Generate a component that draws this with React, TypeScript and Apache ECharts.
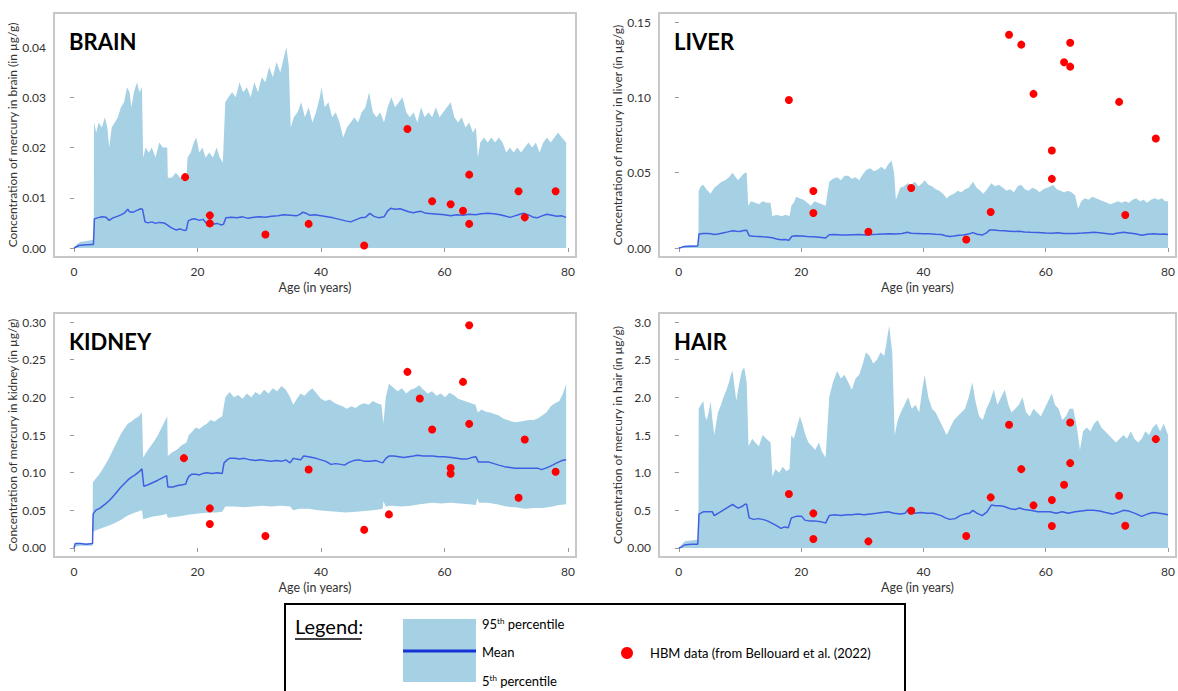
import React, { useEffect, useRef } from "react";
import * as echarts from "echarts";

const FONT = "Lato, 'Open Sans', sans-serif";
const BAND = "#a6d1e5";
const MEAN = "#3e5fe2";
const DOT = "#ff0000";

const xTicks = [0, 20, 40, 60, 80];
const brainTicks = [0, 0.01, 0.02, 0.03, 0.04];
const liverTicks = [0, 0.05, 0.1, 0.15];
const kidneyTicks = [0, 0.05, 0.1, 0.15, 0.2, 0.25, 0.3];
const hairTicks = [0, 0.5, 1, 1.5, 2, 2.5, 3];

const brainUpper = [[0,0],[0.5,0.0008],[1,0.0012],[2,0.0014],[3,0.0016],[3.2,0.0016],[3.25,0.025],[3.6,0.023],[4,0.025],[4.5,0.024],[5,0.026],[5.4,0.024],[5.7,0.020],[6.1,0.024],[6.6,0.025],[7.1,0.026],[7.6,0.028],[8.1,0.029],[8.6,0.032],[9,0.031],[9.3,0.028],[9.7,0.031],[10.2,0.033],[10.6,0.031],[11,0.032],[11.2,0.018],[11.6,0.020],[12.1,0.019],[12.6,0.020],[13.2,0.018],[13.8,0.021],[14.4,0.020],[15.1,0.020],[15.2,0.014],[15.8,0.014],[16.5,0.015],[17.2,0.014],[18.2,0.014],[18.4,0.018],[18.9,0.019],[19.4,0.021],[19.8,0.022],[20.3,0.019],[20.8,0.020],[21.3,0.018],[21.9,0.019],[22.5,0.018],[23.1,0.020],[23.6,0.018],[24.1,0.017],[24.5,0.029],[25,0.030],[25.6,0.031],[26.2,0.030],[26.8,0.033],[27.4,0.031],[28,0.032],[28.6,0.030],[29.2,0.033],[29.8,0.031],[30.4,0.034],[31,0.033],[31.6,0.036],[32.2,0.034],[32.8,0.037],[33.4,0.035],[34,0.038],[34.4,0.040],[34.8,0.036],[35.1,0.024],[35.6,0.026],[36.2,0.027],[36.8,0.029],[37.4,0.026],[38,0.028],[38.6,0.025],[39.2,0.027],[39.8,0.030],[40.1,0.032],[40.6,0.028],[41.2,0.029],[41.8,0.026],[42.4,0.027],[43,0.025],[43.6,0.022],[44.2,0.024],[44.8,0.025],[45.4,0.026],[46,0.025],[46.6,0.027],[47.2,0.028],[47.8,0.031],[48.4,0.027],[49,0.026],[49.6,0.027],[50.2,0.025],[50.8,0.028],[51.4,0.030],[52,0.028],[52.6,0.029],[53.2,0.030],[53.8,0.027],[54.4,0.026],[55,0.027],[55.6,0.025],[56.2,0.028],[56.8,0.026],[57.4,0.027],[58,0.026],[58.6,0.028],[59.2,0.026],[59.8,0.027],[60.4,0.028],[61,0.029],[61.6,0.026],[62.2,0.025],[62.8,0.026],[63.4,0.024],[64,0.025],[64.6,0.023],[65.1,0.024],[65.4,0.018],[65.8,0.021],[66.4,0.022],[67,0.021],[67.6,0.022],[68.2,0.021],[68.8,0.022],[69.4,0.021],[70,0.019],[70.6,0.020],[71.2,0.019],[71.8,0.020],[72.4,0.019],[73,0.020],[73.6,0.021],[74.2,0.020],[74.8,0.021],[75.4,0.019],[76,0.021],[76.6,0.022],[77.2,0.021],[77.8,0.022],[78.4,0.023],[79,0.022],[79.7,0.021]];
const brainLower = [[0,0],[79.7,0]];
const brainMean = [[0,0],[0.3,0.0002],[0.8,0.0005],[1.5,0.0006],[2.9,0.0007],[3.15,0.0007],[3.3,0.0058],[3.8,0.0060],[4.5,0.0062],[5.2,0.0061],[5.7,0.0055],[6.3,0.0060],[7,0.0063],[7.6,0.0066],[8.2,0.0070],[8.7,0.0077],[9,0.0072],[9.5,0.0071],[10.2,0.0075],[10.8,0.0078],[11.1,0.0077],[11.5,0.0052],[12,0.0050],[12.6,0.0052],[13.2,0.0049],[13.8,0.0051],[14.6,0.0050],[15.2,0.0045],[15.8,0.0040],[16.5,0.0036],[17.2,0.0038],[17.8,0.0035],[18.2,0.0036],[18.5,0.0054],[19,0.0057],[19.6,0.0058],[20.3,0.0055],[20.9,0.0057],[21.4,0.0050],[22,0.0049],[22.6,0.0048],[23.2,0.0049],[23.8,0.0046],[24.2,0.0047],[24.6,0.0060],[25.5,0.0061],[26.4,0.0060],[27.3,0.0062],[28.2,0.0059],[29.1,0.0061],[30,0.0062],[31,0.0061],[32,0.0063],[33,0.0064],[34,0.0066],[35,0.0065],[36,0.0064],[36.6,0.0067],[37,0.0071],[37.6,0.0069],[38.2,0.0065],[39,0.0066],[40,0.0064],[41,0.0062],[42,0.0060],[43,0.0057],[44,0.0054],[44.8,0.0052],[45.6,0.0056],[46.4,0.0060],[47.2,0.0061],[47.9,0.0069],[48.6,0.0063],[49.4,0.0060],[50.2,0.0062],[50.8,0.0074],[51.3,0.0079],[52,0.0077],[52.8,0.0078],[53.5,0.0075],[54.2,0.0072],[55,0.0070],[55.6,0.0072],[56.2,0.0073],[57,0.0069],[58,0.0068],[59,0.0067],[60,0.0066],[61,0.0064],[62,0.0066],[63,0.0065],[64,0.0067],[65,0.0066],[66,0.0068],[67,0.0069],[68,0.0068],[69,0.0066],[70,0.0063],[70.6,0.0061],[71.4,0.0064],[72.2,0.0067],[72.8,0.0069],[73.6,0.0066],[74.4,0.0061],[75,0.0060],[75.8,0.0064],[76.6,0.0067],[77.4,0.0065],[78.2,0.0063],[79,0.0064],[79.7,0.0061]];
const brainHBM = [[18,0.0141],[22,0.0065],[22,0.0049],[31,0.0027],[38,0.0048],[47,0.0005],[54,0.0237],[58,0.0093],[61,0.0087],[63,0.0074],[64,0.0146],[64,0.0048],[72,0.0113],[73,0.0061],[78,0.0113]];

const liverUpper = [[0,0],[0.5,0.0008],[1,0.0015],[2,0.0018],[3,0.002],[3.2,0.002],[3.25,0.038],[3.6,0.041],[4,0.042],[4.5,0.039],[5.2,0.036],[5.8,0.040],[6.4,0.042],[7,0.044],[7.6,0.045],[8.2,0.047],[8.8,0.050],[9.3,0.047],[9.7,0.045],[10.3,0.048],[10.8,0.050],[11.1,0.050],[11.35,0.028],[11.8,0.031],[12.5,0.030],[13.1,0.029],[13.7,0.031],[14.4,0.030],[15,0.030],[15.3,0.021],[16,0.022],[16.8,0.021],[17.5,0.022],[18.1,0.021],[18.4,0.028],[18.8,0.030],[19.2,0.034],[19.7,0.033],[20.4,0.032],[21,0.030],[21.6,0.028],[22.2,0.031],[22.8,0.030],[23.4,0.029],[24,0.028],[24.6,0.044],[25.2,0.046],[25.9,0.047],[26.5,0.045],[27.1,0.048],[27.7,0.048],[28.3,0.046],[28.9,0.047],[29.5,0.045],[30.1,0.049],[30.7,0.052],[31.3,0.053],[31.9,0.051],[32.5,0.052],[33.1,0.054],[33.7,0.052],[34.3,0.056],[34.8,0.058],[35.2,0.050],[35.5,0.032],[36.2,0.040],[36.8,0.041],[37.4,0.043],[38,0.042],[38.6,0.044],[39.2,0.041],[39.8,0.043],[40.2,0.045],[40.8,0.042],[41.4,0.041],[42,0.039],[42.6,0.038],[43.2,0.036],[43.8,0.033],[44.4,0.035],[45,0.036],[45.6,0.038],[46.2,0.037],[46.8,0.039],[47.4,0.040],[48.1,0.044],[48.7,0.040],[49.3,0.038],[49.8,0.036],[50.4,0.039],[51.1,0.043],[51.7,0.041],[52.3,0.042],[53,0.040],[53.6,0.038],[54.2,0.039],[54.8,0.037],[55.4,0.041],[56,0.042],[56.6,0.039],[57.2,0.038],[57.8,0.040],[58.4,0.039],[59,0.037],[59.6,0.039],[60.2,0.040],[60.8,0.041],[61.2,0.042],[61.8,0.039],[62.4,0.038],[63,0.037],[63.6,0.038],[64.2,0.037],[64.8,0.035],[65.3,0.026],[65.8,0.031],[66.4,0.033],[67,0.032],[67.6,0.034],[68.2,0.033],[68.8,0.032],[69.4,0.031],[70,0.030],[70.6,0.029],[71.2,0.030],[71.8,0.031],[72.4,0.030],[73,0.031],[73.6,0.030],[74.2,0.032],[74.8,0.033],[75.4,0.031],[76,0.032],[76.6,0.030],[77.2,0.032],[77.8,0.033],[78.4,0.032],[79,0.033],[79.5,0.031],[80,0.031]];
const liverLower = [[0,0],[80,0]];
const liverMean = [[0,0],[0.4,0.0004],[0.9,0.0010],[2,0.0012],[3.1,0.0013],[3.3,0.0093],[4,0.0096],[4.7,0.0097],[5.2,0.0094],[5.8,0.0089],[6.4,0.0093],[7.2,0.0100],[8,0.0107],[8.8,0.0115],[9.4,0.0111],[10,0.0110],[10.6,0.0116],[11.1,0.0118],[11.5,0.0082],[12.2,0.0078],[13,0.0077],[13.8,0.0074],[14.6,0.0072],[15.3,0.0068],[16,0.0060],[16.7,0.0055],[17.4,0.0057],[18,0.0052],[18.5,0.0078],[19.2,0.0082],[20,0.0080],[21,0.0076],[22,0.0074],[23,0.0071],[24,0.0066],[24.6,0.0088],[25.5,0.0090],[26.5,0.0087],[27.5,0.0086],[28.5,0.0088],[29.5,0.0089],[30.5,0.0087],[31.5,0.0090],[32.5,0.0091],[33.5,0.0093],[34.5,0.0095],[35.5,0.0093],[36.5,0.0096],[37.4,0.0105],[38,0.0098],[39,0.0097],[40,0.0095],[41,0.0094],[42,0.0091],[42.9,0.0090],[43.6,0.0082],[44.3,0.0076],[45,0.0079],[45.8,0.0084],[46.5,0.0087],[47.4,0.0093],[48.1,0.0102],[48.8,0.0091],[49.6,0.0086],[50.3,0.0100],[50.8,0.0119],[51.5,0.0120],[52.3,0.0116],[53.2,0.0114],[54,0.0112],[55,0.0109],[55.7,0.0112],[56.5,0.0107],[57.5,0.0104],[58.7,0.0103],[60,0.0100],[61,0.0098],[62,0.0101],[63,0.0097],[64,0.0096],[64.8,0.0097],[66,0.0099],[67,0.0102],[67.8,0.0104],[68.8,0.0101],[69.8,0.0097],[70.9,0.0092],[71.6,0.0098],[72.7,0.0104],[73.6,0.0100],[74.6,0.0094],[75.7,0.0085],[76.6,0.0092],[77.6,0.0095],[78.6,0.0091],[79.4,0.0093],[80,0.0090]];
const liverHBM = [[18,0.0983],[22,0.0378],[22,0.0232],[31,0.0108],[38,0.0398],[47,0.0057],[51,0.0239],[54,0.1416],[56,0.135],[58,0.1023],[61,0.0647],[61,0.0459],[63,0.1233],[64,0.1363],[64,0.1204],[72,0.097],[73,0.0219],[78,0.0727]];

const kidneyUpper = [[0,0],[0.3,0.006],[1,0.007],[2,0.006],[3,0.007],[3.05,0.087],[3.5,0.092],[4,0.097],[4.5,0.103],[5,0.110],[5.6,0.118],[6.3,0.130],[6.9,0.140],[7.5,0.150],[8.1,0.158],[8.7,0.165],[9.3,0.168],[9.9,0.172],[10.5,0.175],[11,0.180],[11.2,0.120],[11.8,0.128],[12.4,0.135],[13,0.142],[13.6,0.150],[14.2,0.160],[14.8,0.170],[15.1,0.175],[15.2,0.122],[15.9,0.127],[16.6,0.130],[17.4,0.136],[18.2,0.140],[18.6,0.150],[19.2,0.155],[19.7,0.160],[20.3,0.158],[20.9,0.162],[21.5,0.165],[22.1,0.170],[22.8,0.168],[23.4,0.172],[24,0.175],[24.5,0.200],[25.2,0.207],[25.9,0.200],[26.6,0.203],[27.3,0.198],[28,0.205],[28.7,0.200],[29.4,0.207],[30.1,0.203],[30.8,0.210],[31.5,0.205],[32.2,0.212],[32.9,0.208],[33.6,0.215],[34.3,0.210],[35,0.200],[35.5,0.190],[36.1,0.198],[36.7,0.205],[37.3,0.202],[38,0.208],[38.6,0.212],[39.3,0.205],[40,0.198],[40.7,0.195],[41.4,0.197],[42.1,0.193],[42.8,0.190],[43.5,0.188],[44.2,0.185],[44.9,0.188],[45.6,0.186],[46.3,0.190],[47,0.192],[47.7,0.190],[48.4,0.195],[49.1,0.192],[49.8,0.190],[50.1,0.165],[50.5,0.200],[51,0.218],[51.7,0.213],[52.4,0.208],[53.1,0.212],[53.8,0.205],[54.5,0.210],[55.2,0.212],[55.9,0.216],[56.6,0.210],[57.3,0.205],[58,0.208],[58.7,0.202],[59.4,0.205],[60.1,0.200],[60.8,0.206],[61.5,0.203],[62.2,0.198],[62.9,0.196],[63.6,0.194],[64.3,0.192],[65,0.190],[65.4,0.180],[66,0.184],[66.7,0.181],[67.4,0.180],[68.1,0.178],[68.8,0.176],[69.5,0.172],[70.2,0.170],[70.9,0.168],[71.6,0.167],[72.3,0.168],[73,0.169],[73.7,0.170],[74.4,0.170],[75.1,0.172],[75.8,0.176],[76.5,0.180],[77.2,0.188],[77.9,0.192],[78.6,0.195],[79.2,0.205],[79.7,0.218]];
const kidneyLower = [[0,0],[0.3,0.002],[1,0.003],[2,0.003],[3,0.003],[3.05,0.022],[4,0.025],[5,0.028],[6.3,0.032],[7.5,0.037],[8.7,0.043],[9.9,0.047],[11,0.050],[11.2,0.038],[12,0.040],[13,0.042],[14,0.043],[15,0.045],[15.2,0.040],[16.2,0.041],[17.2,0.042],[18.5,0.044],[19.5,0.045],[20.5,0.046],[22.1,0.047],[23,0.047],[24,0.048],[24.5,0.055],[26,0.055],[27.5,0.054],[29,0.055],[30.5,0.056],[32,0.055],[33.5,0.056],[35,0.055],[35.5,0.050],[36.5,0.052],[38,0.052],[39.5,0.050],[41,0.049],[42.5,0.048],[44,0.047],[45.7,0.048],[47,0.049],[48.5,0.050],[50,0.052],[50.1,0.062],[50.5,0.055],[51.5,0.056],[53,0.055],[54.5,0.056],[56,0.058],[58,0.060],[59.5,0.059],[61,0.060],[62.5,0.059],[64,0.058],[65.1,0.057],[65.3,0.066],[65.6,0.060],[67,0.060],[68.5,0.058],[70,0.055],[71.5,0.054],[73,0.052],[74.5,0.053],[76,0.053],[77.5,0.055],[78.5,0.057],[79.7,0.058]];
const kidneyMean = [[0,0],[0.2,0.006],[1,0.006],[2,0.005],[3,0.006],[3.1,0.045],[3.5,0.050],[4.2,0.053],[5,0.058],[5.6,0.062],[6.3,0.068],[6.9,0.074],[7.5,0.080],[8.1,0.085],[8.7,0.090],[9.3,0.094],[9.9,0.097],[10.5,0.101],[11,0.105],[11.3,0.082],[12,0.084],[12.8,0.087],[13.6,0.090],[14.3,0.093],[15,0.096],[15.2,0.081],[16,0.081],[16.8,0.083],[17.6,0.084],[18.1,0.085],[18.3,0.090],[18.6,0.095],[19.1,0.098],[19.7,0.098],[20.3,0.097],[20.9,0.099],[21.5,0.100],[22.3,0.099],[23.2,0.100],[24,0.099],[24.3,0.113],[24.8,0.117],[25.2,0.119],[26,0.119],[26.8,0.118],[27.6,0.119],[28.5,0.117],[29.4,0.116],[30.2,0.117],[31,0.116],[31.9,0.115],[32.8,0.116],[33.6,0.115],[34.3,0.117],[35,0.113],[35.5,0.119],[36,0.118],[36.7,0.117],[37.2,0.122],[38,0.121],[39.2,0.119],[40,0.117],[40.8,0.115],[41.6,0.111],[42.4,0.112],[43.2,0.111],[43.8,0.110],[44.6,0.114],[45.3,0.116],[46.2,0.117],[47.1,0.115],[48,0.115],[48.9,0.116],[49.6,0.114],[50,0.113],[50.5,0.119],[51,0.122],[51.8,0.122],[52.6,0.121],[53.4,0.120],[54.2,0.121],[55,0.122],[55.6,0.123],[56.5,0.122],[57.4,0.122],[58.1,0.122],[59,0.121],[60,0.121],[61.1,0.120],[62,0.119],[62.8,0.118],[63.6,0.118],[64.4,0.120],[65.1,0.121],[65.5,0.114],[66.4,0.114],[67.2,0.114],[68,0.112],[68.8,0.110],[69.7,0.108],[70.6,0.107],[71.4,0.106],[72.1,0.106],[73,0.106],[74,0.106],[75.1,0.106],[75.7,0.104],[76.4,0.106],[77,0.108],[77.5,0.110],[78.2,0.113],[79,0.116],[79.7,0.117]];
const kidneyHBM = [[17.8,0.1193],[22,0.0526],[22,0.0318],[31,0.0159],[38,0.1043],[47,0.0243],[51,0.0446],[54,0.2338],[56,0.1984],[58,0.1573],[61,0.1061],[61,0.0985],[63,0.2205],[64,0.2956],[64,0.1648],[72,0.0667],[73,0.1441],[78,0.1012]];

const hairUpper = [[0,0],[0.5,0.05],[1,0.09],[2,0.10],[3,0.11],[3.2,0.11],[3.25,1.85],[3.6,1.90],[4,1.95],[4.3,1.75],[4.6,1.70],[5,1.85],[5.2,1.95],[5.5,1.70],[5.8,1.50],[6.1,1.65],[6.4,1.80],[6.9,1.90],[7.3,2.00],[7.8,2.10],[8.2,2.20],[8.5,2.30],[8.8,2.35],[9.1,2.15],[9.4,1.95],[9.8,2.15],[10.3,2.35],[10.7,2.40],[11.1,2.20],[11.4,1.35],[12,1.45],[12.5,1.40],[13.1,1.35],[13.7,1.50],[14.3,1.45],[15,1.40],[15.3,0.95],[15.8,1.05],[16.4,1.00],[17,1.08],[17.6,1.02],[18.1,1.05],[18.4,1.50],[18.8,1.45],[19.3,1.60],[19.8,1.75],[20.2,1.65],[20.7,1.50],[21.2,1.40],[21.8,1.35],[22.3,1.30],[22.9,1.40],[23.4,1.28],[24,1.20],[24.6,2.00],[25.2,2.20],[25.9,2.35],[26.5,2.25],[27.1,2.30],[27.7,2.20],[28.3,2.10],[28.9,2.25],[29.5,2.30],[30.1,2.45],[30.6,2.60],[31.2,2.55],[31.8,2.45],[32.4,2.50],[33,2.60],[33.6,2.55],[34,2.75],[34.4,2.95],[34.9,2.60],[35.3,1.50],[35.8,1.70],[36.3,1.80],[36.9,1.90],[37.5,2.00],[38.1,1.85],[38.7,1.90],[39.3,1.80],[39.8,2.10],[40.2,2.30],[40.8,2.00],[41.4,1.85],[42,1.80],[42.6,1.70],[43.2,1.60],[43.8,1.50],[44.4,1.60],[45,1.70],[45.6,1.75],[46.2,1.80],[46.8,1.85],[47.4,2.00],[48,2.20],[48.5,1.95],[49.1,1.75],[49.7,1.70],[50.3,1.85],[50.9,1.95],[51.5,2.10],[52.1,1.90],[52.7,2.00],[53.3,2.10],[53.9,1.90],[54.4,1.80],[55,1.85],[55.6,1.90],[56.2,2.00],[56.8,1.80],[57.4,1.75],[58,1.85],[58.6,1.80],[59.2,1.75],[59.8,1.85],[60.4,1.95],[61,2.05],[61.5,1.90],[62.1,1.85],[62.7,1.70],[63.3,1.75],[63.9,1.85],[64.5,1.85],[65.1,1.60],[65.6,1.30],[66.1,1.55],[66.7,1.60],[67.3,1.55],[67.9,1.65],[68.5,1.70],[69.1,1.60],[69.7,1.55],[70.3,1.50],[70.9,1.45],[71.5,1.40],[72.1,1.45],[72.7,1.50],[73.3,1.45],[73.9,1.55],[74.5,1.45],[75.1,1.40],[75.7,1.45],[76.3,1.55],[76.9,1.50],[77.5,1.60],[78.1,1.65],[78.7,1.55],[79.3,1.65],[80,1.50]];
const hairLower = [[0,0],[80,0]];
const hairMean = [[0,0],[0.4,0.01],[0.9,0.04],[2,0.05],[3.1,0.05],[3.3,0.45],[4,0.48],[4.8,0.48],[5.5,0.48],[5.8,0.43],[6.4,0.46],[7,0.49],[7.6,0.52],[8.2,0.55],[8.8,0.58],[9.3,0.55],[9.7,0.53],[10.3,0.55],[10.8,0.58],[11.1,0.58],[11.5,0.40],[12.2,0.38],[13,0.39],[13.7,0.38],[14.5,0.36],[15.2,0.33],[15.9,0.30],[16.7,0.26],[17.3,0.28],[17.9,0.27],[18.4,0.40],[19.2,0.42],[20.1,0.42],[20.6,0.37],[21.3,0.36],[22.2,0.36],[23.2,0.35],[24,0.33],[24.6,0.43],[25.5,0.44],[26.5,0.43],[27.5,0.44],[28.3,0.44],[29.3,0.45],[30.3,0.44],[31.3,0.45],[32.3,0.46],[33.2,0.47],[34.2,0.48],[35.2,0.46],[36.2,0.45],[37,0.46],[37.4,0.50],[38,0.49],[38.6,0.46],[39.6,0.47],[40.6,0.46],[41.6,0.46],[42.9,0.43],[43.6,0.40],[44.3,0.38],[45.2,0.39],[46,0.43],[46.7,0.45],[47.5,0.46],[48.1,0.50],[48.8,0.46],[49.6,0.43],[50.4,0.48],[51.1,0.57],[51.8,0.56],[52.6,0.56],[53.2,0.55],[54.2,0.52],[55,0.51],[55.7,0.53],[56.5,0.51],[57.5,0.50],[58.7,0.48],[59.7,0.48],[60.7,0.48],[61.7,0.46],[62.7,0.48],[63.7,0.46],[64.8,0.48],[65.8,0.49],[66.8,0.50],[67.8,0.50],[68.8,0.49],[69.8,0.47],[70.9,0.45],[71.8,0.47],[72.7,0.50],[73.6,0.49],[74.6,0.46],[75.7,0.42],[76.6,0.45],[77.6,0.47],[78.6,0.46],[79.4,0.45],[80,0.44]];
const hairHBM = [[18,0.716],[22,0.46],[22,0.119],[31,0.088],[38,0.495],[47,0.159],[51,0.672],[54,1.635],[56,1.047],[58,0.566],[61,0.292],[61,0.636],[63,0.84],[64,1.127],[64,1.666],[72,0.694],[73,0.296],[78,1.445]];

const panels = [
  { title: "BRAIN", organ: "brain", left: 54, top: 13, yMin: -0.00179, yMax: 0.04677, ticks: brainTicks, fmt: (v: number) => v.toFixed(2), upper: brainUpper, lower: brainLower, mean: brainMean, hbm: brainHBM },
  { title: "LIVER", organ: "liver", left: 659, top: 13, yMin: -0.00597, yMax: 0.156, ticks: liverTicks, fmt: (v: number) => v.toFixed(2), upper: liverUpper, lower: liverLower, mean: liverMean, hbm: liverHBM },
  { title: "KIDNEY", organ: "kidney", left: 54, top: 313, yMin: -0.01195, yMax: 0.31195, ticks: kidneyTicks, fmt: (v: number) => v.toFixed(2), upper: kidneyUpper, lower: kidneyLower, mean: kidneyMean, hbm: kidneyHBM },
  { title: "HAIR", organ: "hair", left: 659, top: 313, yMin: -0.1195, yMax: 3.1195, ticks: hairTicks, fmt: (v: number) => (v === 0 ? "0.00" : v.toFixed(1)), upper: hairUpper, lower: hairLower, mean: hairMean, hbm: hairHBM },
];

export default function App() {
  const ref = useRef<HTMLDivElement>(null);
  useEffect(() => {
    if (!ref.current) return;
    const chart = echarts.init(ref.current, null, { renderer: "svg" });
    const labelStyle = { color: "#333", fontSize: 12, fontFamily: FONT };
    const grid: any[] = [];
    const xAxis: any[] = [];
    const yAxis: any[] = [];
    const series: any[] = [];
    const title: any[] = [];
    panels.forEach((p, i) => {
      grid.push({ left: p.left, top: p.top, width: 522, height: 244, show: true, borderColor: "#c8c8c8", borderWidth: 2, backgroundColor: "transparent" });
      xAxis.push({
        type: "value", gridIndex: i, min: -3.24, max: 81.3,
        axisLine: { show: false }, splitLine: { show: false },
        axisTick: { show: true, length: 4, lineStyle: { color: "#999" }, customValues: xTicks },
        axisLabel: { ...labelStyle, margin: 8, customValues: xTicks },
        name: "Age (in years)", nameLocation: "middle", nameGap: 24,
        nameTextStyle: { ...labelStyle, fontSize: 12.5 },
      });
      yAxis.push({
        type: "value", gridIndex: i, min: p.yMin, max: p.yMax,
        axisLine: { show: false }, splitLine: { show: false },
        axisTick: { show: true, length: 4, lineStyle: { color: "#999" }, customValues: p.ticks },
        axisLabel: { ...labelStyle, margin: 8, customValues: p.ticks, formatter: p.fmt },
        name: `Concentration of mercury in ${p.organ} (in µg/g)`, nameLocation: "middle", nameGap: 27,
        nameTextStyle: { ...labelStyle, fontSize: 12 },
      });
      const up = p.upper, lo = p.lower;
      series.push({
        type: "custom", xAxisIndex: i, yAxisIndex: i, silent: true, z: 1,
        data: [up[0]],
        renderItem: (params: any, api: any) => {
          const pts = up.map((d) => api.coord(d)).concat(lo.slice().reverse().map((d) => api.coord(d)));
          return { type: "polygon", shape: { points: pts }, style: { fill: BAND } };
        },
      });
      series.push({
        type: "line", xAxisIndex: i, yAxisIndex: i, data: p.mean, showSymbol: false, symbol: "none", z: 3,
        lineStyle: { color: MEAN, width: 1.5 }, silent: true,
      });
      series.push({
        type: "scatter", xAxisIndex: i, yAxisIndex: i, data: p.hbm, symbolSize: 8, z: 5,
        itemStyle: { color: DOT, opacity: 1 },
      });
      title.push({ text: p.title, left: p.left + 15, top: p.top + 17, padding: 0, textStyle: { fontSize: 22, fontWeight: "bold", color: "#000", fontFamily: FONT } });
    });

    const legendText = (text: string, x: number, y: number, size = 13) => ({
      type: "text", x, y,
      style: { text, font: `${size}px ${FONT}`, fill: "#000", textVerticalAlign: "middle" },
    });
    const pctText = (num: string, x: number, y: number) => ({
      type: "text", x, y,
      style: {
        text: `${num}{s|th} percentile`, font: `13px ${FONT}`, fill: "#000", textVerticalAlign: "middle",
        rich: { s: { fontSize: 8, fontFamily: FONT, padding: [0, 0, 6, 0] } },
      },
    });
    const graphic = [
      { type: "rect", shape: { x: 285, y: 604, width: 620, height: 100 }, style: { fill: "#fff", stroke: "#000", lineWidth: 2 }, z: 0 },
      legendText("Legend:", 295, 626, 20),
      { type: "line", shape: { x1: 295, y1: 639, x2: 361, y2: 639 }, style: { stroke: "#000", lineWidth: 1.3 } },
      { type: "rect", shape: { x: 403, y: 619, width: 73, height: 63 }, style: { fill: BAND } },
      { type: "line", shape: { x1: 403, y1: 651, x2: 476, y2: 651 }, style: { stroke: "#1434d6", lineWidth: 3 } },
      pctText("95", 482, 624),
      legendText("Mean", 482, 652),
      pctText("5", 482, 681),
      { type: "circle", shape: { cx: 627, cy: 653, r: 6 }, style: { fill: DOT } },
      legendText("HBM data (from Bellouard et al. (2022)", 650, 653),
    ];

    chart.setOption({
      animation: false,
      backgroundColor: "#fff",
      textStyle: { fontFamily: FONT },
      title, grid, xAxis, yAxis, series, graphic,
    });
    return () => chart.dispose();
  }, []);
  return <div ref={ref} style={{ position: "absolute", left: 0, top: 0, width: 1178, height: 691 }} />;
}
